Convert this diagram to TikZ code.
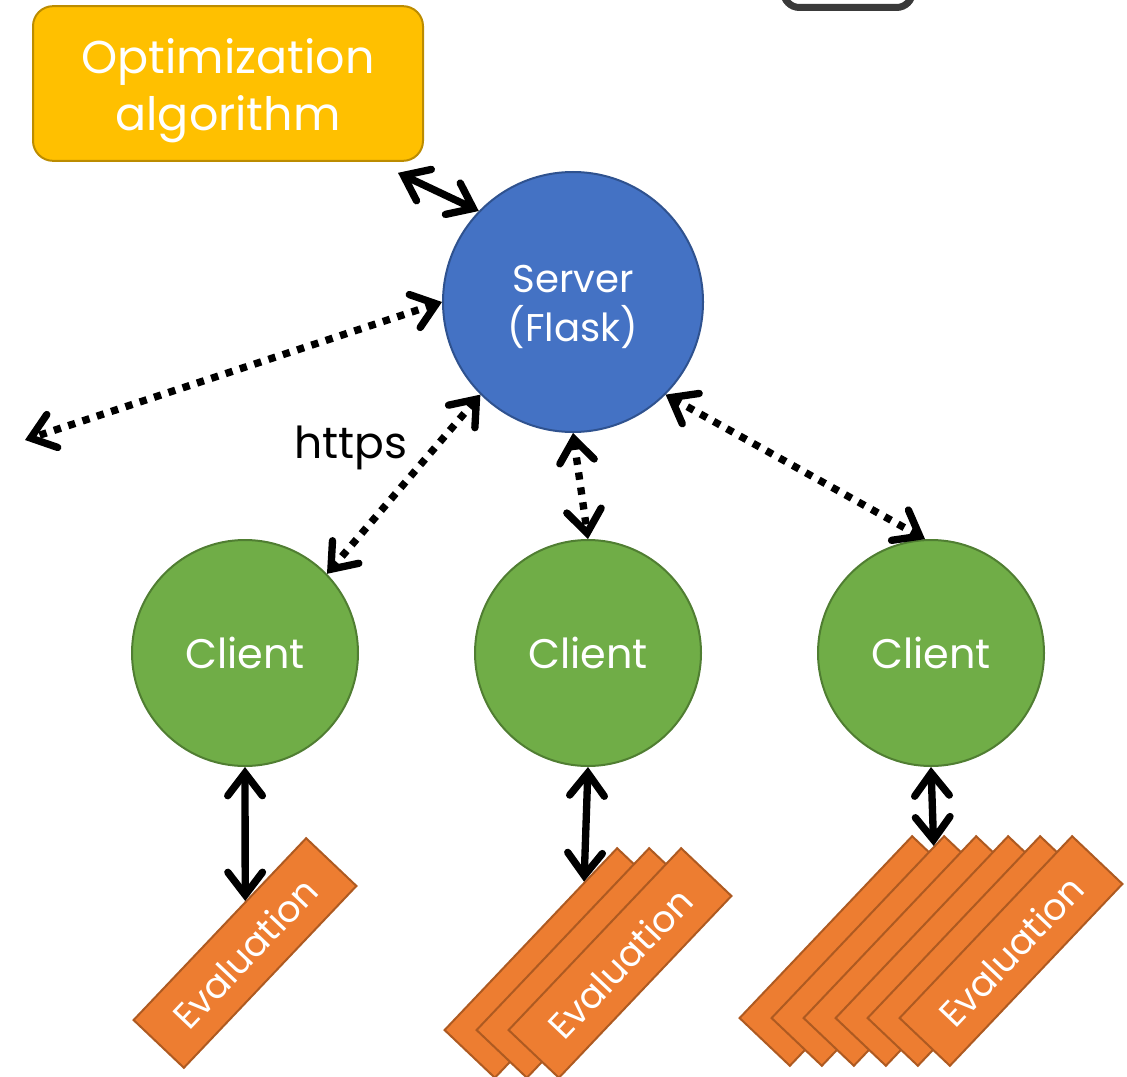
\documentclass[tikz,border=0pt]{standalone}
\usepackage{fontspec}
\setmainfont{Poppins}
\usetikzlibrary{arrows.meta,calc}
\definecolor{optfill}{HTML}{FFC000}
\definecolor{optdraw}{HTML}{BC8C00}
\definecolor{srvfill}{HTML}{4472C4}
\definecolor{srvdraw}{HTML}{2F528F}
\definecolor{clifill}{HTML}{70AD47}
\definecolor{clidraw}{HTML}{507E32}
\definecolor{evfill}{HTML}{ED7D31}
\definecolor{evdraw}{HTML}{AE5A21}
\definecolor{topgray}{HTML}{3A3A3A}
\begin{document}
\begin{tikzpicture}[x=0.75pt,y=-0.75pt,
  optbox/.style={draw=optdraw, fill=optfill, line width=1.5pt, rounded corners=15pt,
    minimum width=292.5pt, minimum height=116pt, inner sep=0pt},
  opttext/.style={text=white, align=center, inner sep=0pt, font=\fontsize{34.5}{43}\selectfont},
  srvnode/.style={circle, draw=srvdraw, fill=srvfill, line width=1.5pt, minimum size=195pt, inner sep=0pt},
  srvtext/.style={text=white, align=center, inner sep=0pt, font=\fontsize{29}{37}\selectfont},
  clinode/.style={circle, draw=clidraw, fill=clifill, line width=1.5pt, minimum size=169.5pt,
    text=white, inner sep=0pt, font=\fontsize{31}{34}\selectfont},
  evbox/.style={rectangle, draw=evdraw, fill=evfill, line width=1.5pt, minimum width=188pt,
    minimum height=52pt, rotate=46.5, text=white, inner sep=0pt, font=\fontsize{27.5}{30}\selectfont},
  barb/.tip={Straight Barb[length=17pt,width=26pt,line cap=round]},
  solidarrow/.style={line width=5.5pt, line cap=round, {barb}-{barb}},
  dotarrow/.style={line width=5.5pt, dash pattern=on 5.5pt off 5.8pt, {barb}-{barb}},
  lbl/.style={font=\fontsize{33}{38}\selectfont, text=black}
]
\useasboundingbox (0,0) rectangle (1127,1077);
\clip (0,0) rectangle (1127,1077);

\node[draw=topgray, fill=white, line width=5.25pt, rounded corners=12pt,
  minimum width=96.75pt, minimum height=48.75pt] (topbox) at (848,-25) {};

\node[optbox, label={[opttext, yshift=-5.5pt]center:Optimization\\algorithm}] (opt) at (228,83.5) {};
\node[srvnode, label={[srvtext, yshift=-3.5pt]center:Server\\(Flask)}] (server) at (573,302) {};
\node[clinode] (cl1) at (245,653) {Client};
\node[clinode] (cl2) at (588,653) {Client};
\node[clinode] (cl3) at (931,653) {Client};

\node[evbox] (evalL) at (245,953) {Evaluation};

\node[evbox] (evalM1) at (556,963) {};
\node[evbox] (evalM2) at (588,963) {};
\node[evbox] (evalM3) at (620,963) {Evaluation};

\node[evbox] (evalR1) at (851,951) {};
\node[evbox] (evalR2) at (883,951) {};
\node[evbox] (evalR3) at (915,951) {};
\node[evbox] (evalR4) at (947,951) {};
\node[evbox] (evalR5) at (979,951) {};
\node[evbox] (evalR6) at (1011,951) {Evaluation};

\coordinate (free) at (25,440);

\draw[solidarrow] ([shift={(-26,11)}]opt.south east) -- (server.136);
\draw[dotarrow] (server.180) -- (free);
\draw[dotarrow] (server.225) -- (cl1.44) node[lbl, pos=0.3, left=14pt] {https};
\draw[dotarrow] (server.270) -- (cl2.90);
\draw[dotarrow] (server.315) -- (cl3.93);

\draw[solidarrow] (cl1.south) -- ($(evalL.north)!0.3!(evalL.north east)$);
\draw[solidarrow] (cl2.south) -- ($(evalM1.north)!0.62!(evalM1.north east)$);
\draw[solidarrow] (cl3.south) -- ($(evalR2.north)!0.88!(evalR2.north east)$);
\end{tikzpicture}
\end{document}
